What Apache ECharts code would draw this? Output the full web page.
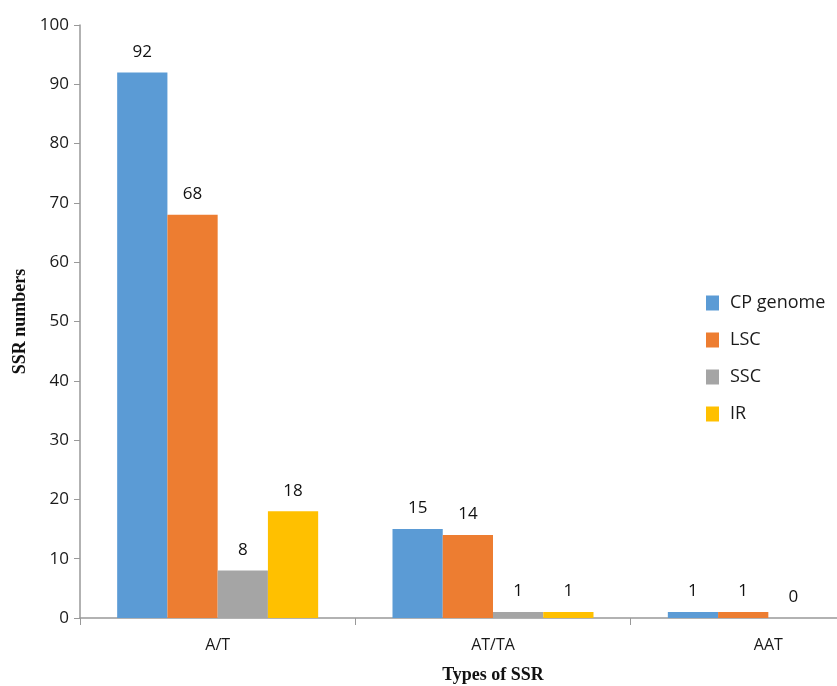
<!DOCTYPE html>
<html>
<head>
<meta charset="utf-8">
<script src="https://cdn.jsdelivr.net/npm/echarts@6/dist/echarts.min.js"></script>
<style>
  html, body { margin: 0; padding: 0; background: #fff; }
  #chart { width: 837px; height: 686px; }
</style>
</head>
<body>
<div id="chart"></div>
<script>
// SSR types and counts per genome region
const categories = ['A/T', 'AT/TA', 'AAT'];
const cpGenome = [92, 15, 1];
const lsc = [68, 14, 1];
const ssc = [8, 1, 0];
const ir = [18, 1, 0];
const yTicks = { min: 0, max: 100, interval: 10 };

const seriesDefs = [
  { name: 'CP genome', data: cpGenome, color: '#5B9BD5' },
  { name: 'LSC', data: lsc, color: '#ED7D31' },
  { name: 'SSC', data: ssc, color: '#A5A5A5' },
  { name: 'IR', data: ir, color: '#FFC000' }
];

const chart = echarts.init(document.getElementById('chart'));
const labelFont = '"Open Sans", "Noto Sans", sans-serif';

chart.setOption({
  animation: false,
  grid: { left: 80, top: 25, height: 593, width: 826, containLabel: false, outerBoundsMode: 'none' },
  legend: {
    orient: 'vertical',
    left: 701,
    top: 289,
    itemWidth: 13,
    itemHeight: 15,
    itemGap: 19,
    icon: 'rect',
    textStyle: { fontFamily: labelFont, fontSize: 18, color: '#1a1a1a', padding: [0, 0, 0, 6] },
    data: seriesDefs.map(s => s.name)
  },
  xAxis: {
    type: 'category',
    data: categories,
    name: 'Types of SSR',
    nameLocation: 'middle',
    nameGap: 48,
    nameTextStyle: { fontFamily: '"Liberation Serif", "Times New Roman", serif', fontWeight: 'bold', fontSize: 18, color: '#111' },
    axisLine: { lineStyle: { color: '#999', width: 1.5 } },
    axisTick: { show: true, length: 7, lineStyle: { color: '#999' } },
    axisLabel: { fontFamily: labelFont, fontSize: 16, color: '#1a1a1a', margin: 19 }
  },
  yAxis: {
    type: 'value',
    min: yTicks.min,
    max: yTicks.max,
    interval: yTicks.interval,
    name: 'SSR numbers',
    nameLocation: 'middle',
    nameGap: 51,
    nameRotate: 90,
    nameTextStyle: { fontFamily: '"Liberation Serif", "Times New Roman", serif', fontWeight: 'bold', fontSize: 18, color: '#111' },
    axisLine: { show: true, lineStyle: { color: '#999', width: 1.5 } },
    axisTick: { show: true, length: 6, lineStyle: { color: '#999' } },
    axisLabel: { fontFamily: labelFont, fontSize: 17, color: '#1a1a1a', margin: 11 },
    splitLine: { show: false }
  },
  series: seriesDefs.map(s => ({
    name: s.name,
    type: 'bar',
    data: s.data,
    barGap: '0%',
    barCategoryGap: '27%',
    itemStyle: { color: s.color },
    label: {
      show: true,
      position: 'top',
      distance: 12,
      fontFamily: labelFont,
      fontSize: 17,
      color: '#111'
    }
  }))
});
</script>
</body>
</html>
